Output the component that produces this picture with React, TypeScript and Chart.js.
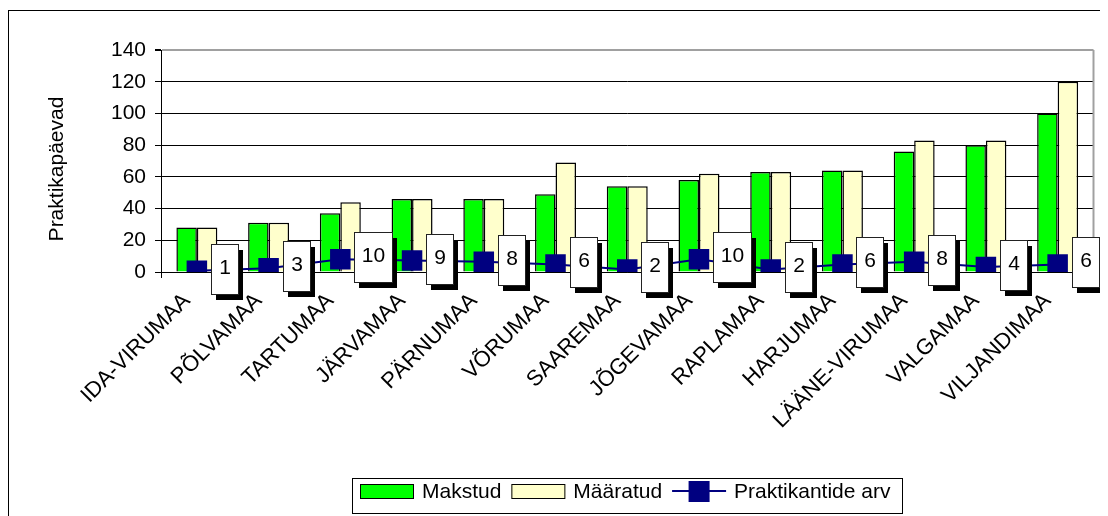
import React, { useEffect, useRef } from "react";
import { Chart, registerables } from "chart.js";

Chart.register(...registerables);

const categories = [
  "IDA-VIRUMAA",
  "PÕLVAMAA",
  "TARTUMAA",
  "JÄRVAMAA",
  "PÄRNUMAA",
  "VÕRUMAA",
  "SAAREMAA",
  "JÕGEVAMAA",
  "RAPLAMAA",
  "HARJUMAA",
  "LÄÄNE-VIRUMAA",
  "VALGAMAA",
  "VILJANDIMAA",
];
const makstud = [28, 31, 37, 46, 46, 49, 54, 58, 63, 64, 76, 80, 100];
const maaratud = [28, 31, 44, 46, 46, 69, 54, 62, 63, 64, 83, 83, 120];
const praktikantideArv = [1, 3, 10, 9, 8, 6, 2, 10, 2, 6, 8, 4, 6];
const seriesNames = ["Makstud", "Määratud", "Praktikantide arv"];
const yAxisTitle = "Praktikapäevad";
const yMin = 0;
const yMax = 140;
const yStep = 20;

const FONT = "'Liberation Sans', Arial, sans-serif";
const GREEN = "#00FF00";
const YELLOW = "#FFFFCC";
const NAVY = "#000080";

export default function App() {
  const ref = useRef<HTMLCanvasElement | null>(null);

  useEffect(() => {
    document.documentElement.style.overflow = "hidden";
    const canvas = ref.current;
    if (!canvas) return;

    const framePlugin = {
      id: "frame",
      beforeDatasetsDraw(chart: any) {
        const { ctx, chartArea } = chart;
        ctx.save();
        ctx.strokeStyle = "#a0a0a0";
        ctx.lineWidth = 2;
        ctx.beginPath();
        ctx.moveTo(chartArea.right, chartArea.top);
        ctx.lineTo(chartArea.right, chartArea.bottom);
        ctx.stroke();
        ctx.restore();
      },
      afterDraw(chart: any) {
        // vertical axis title
        const { ctx, chartArea } = chart;
        ctx.save();
        ctx.font = `21px ${FONT}`;
        ctx.fillStyle = "#000";
        ctx.textAlign = "center";
        ctx.textBaseline = "middle";
        ctx.translate(48, (chartArea.top + chartArea.bottom) / 2 + 8);
        ctx.rotate(-Math.PI / 2);
        ctx.fillText(yAxisTitle, 0, 0);
        ctx.restore();
      },
    };

    const labelPlugin = {
      id: "boxLabels",
      afterDatasetsDraw(chart: any) {
        const { ctx } = chart;
        const meta = chart.getDatasetMeta(2);
        ctx.save();
        ctx.font = `21px ${FONT}`;
        meta.data.forEach((pt: any, i: number) => {
          const text = String(praktikantideArv[i]);
          const tw = ctx.measureText(text).width;
          const w = Math.round(tw + 15);
          const h = 50;
          const left = Math.round(pt.x + 14);
          const cy = pt.y - 2;
          const top = Math.round(cy - h / 2);
          ctx.fillStyle = "#000";
          ctx.fillRect(left + 5, top + 6, w, h);
          ctx.fillStyle = "#fff";
          ctx.fillRect(left, top, w, h);
          ctx.strokeStyle = "#222";
          ctx.lineWidth = 1;
          ctx.strokeRect(left + 0.5, top + 0.5, w, h);
          ctx.fillStyle = "#000";
          ctx.textAlign = "center";
          ctx.textBaseline = "middle";
          ctx.fillText(text, left + w / 2 + 0.5, top + h / 2 - 1);
        });
        ctx.restore();
      },
    };

    const legendPlugin = {
      id: "customLegend",
      afterDraw(chart: any) {
        const { ctx, chartArea } = chart;
        ctx.save();
        ctx.font = `21px ${FONT}`;
        const sw = 54;
        const gapText = 8;
        const gapItem = 10;
        const padL = 8;
        const padR = 12;
        const widths = seriesNames.map((s) => ctx.measureText(s).width);
        let total = padL + padR;
        widths.forEach((w, i) => {
          total += sw + gapText + w + (i < widths.length - 1 ? gapItem : 0);
        });
        const cx = (chartArea.left + chartArea.right) / 2;
        const boxLeft = Math.round(cx - total / 2);
        const boxTop = Math.round(chartArea.bottom + 206);
        const boxH = 35;
        const cy = boxTop + 13;
        ctx.fillStyle = "#fff";
        ctx.fillRect(boxLeft, boxTop, total, boxH);
        ctx.strokeStyle = "#000";
        ctx.lineWidth = 1;
        ctx.strokeRect(boxLeft + 0.5, boxTop + 0.5, Math.round(total), boxH);
        let x = boxLeft + padL;
        seriesNames.forEach((name, i) => {
          if (i < 2) {
            ctx.fillStyle = i === 0 ? GREEN : YELLOW;
            ctx.fillRect(x, cy - 7, sw, 15);
            ctx.strokeStyle = "#000";
            ctx.strokeRect(x + 0.5, cy - 7 + 0.5, sw - 1, 14);
          } else {
            ctx.strokeStyle = NAVY;
            ctx.lineWidth = 2;
            ctx.beginPath();
            ctx.moveTo(x, cy);
            ctx.lineTo(x + sw, cy);
            ctx.stroke();
            ctx.fillStyle = NAVY;
            ctx.fillRect(x + sw / 2 - 10.5, cy - 10, 21, 21);
            ctx.lineWidth = 1;
          }
          ctx.fillStyle = "#000";
          ctx.textAlign = "left";
          ctx.textBaseline = "middle";
          ctx.fillText(name, x + sw + gapText, cy + 1);
          x += sw + gapText + widths[i] + gapItem;
        });
        ctx.restore();
      },
    };

    const chart = new Chart(canvas, {
      type: "bar",
      data: {
        labels: categories,
        datasets: [
          {
            type: "bar",
            label: seriesNames[0],
            data: makstud,
            backgroundColor: GREEN,
            borderColor: "#000",
            borderWidth: 1.5,
            order: 1,
            yAxisID: "y",
          },
          {
            type: "bar",
            label: seriesNames[1],
            data: maaratud,
            backgroundColor: YELLOW,
            borderColor: "#000",
            borderWidth: 1.5,
            order: 1,
            yAxisID: "y",
          },
          {
            type: "line",
            label: seriesNames[2],
            data: praktikantideArv,
            borderColor: NAVY,
            backgroundColor: NAVY,
            borderWidth: 2,
            pointStyle: "rect",
            pointRadius: 14.5,
            pointBorderWidth: 0,
            pointBackgroundColor: NAVY,
            order: 0,
            yAxisID: "y2",
            tension: 0,
          } as any,
        ],
      },
      options: {
        responsive: false,
        animation: false,
        layout: { padding: { left: 0, right: 7, top: 39, bottom: 0 } },
        datasets: { bar: { categoryPercentage: 0.571, barPercentage: 1 } },
        plugins: { legend: { display: false }, tooltip: { enabled: false } },
        scales: {
          x: {
            grid: {
              display: true,
              drawOnChartArea: false,
              drawTicks: true,
              tickLength: 6,
              color: "#000",
              offset: true,
            },
            border: { color: "#000", width: 1 },
            ticks: {
              maxRotation: 45,
              minRotation: 45,
              autoSkip: false,
              font: { family: FONT, size: 22 },
              color: "#000",
              padding: 10,
              labelOffset: -10,
            },
            afterFit(scale: any) {
              scale.height = 244;
            },
          },
          y: {
            min: yMin,
            max: yMax,
            ticks: {
              stepSize: yStep,
              font: { family: FONT, size: 21 },
              color: "#000",
              padding: 9,
            },
            grid: {
              color: (c: any) => (c.tick && c.tick.value === yMax ? "#a0a0a0" : "#000"),
              lineWidth: (c: any) => (c.tick && c.tick.value === yMax ? 2 : 1),
              tickColor: "#000",
              tickLength: 6,
            },
            border: { color: "#000", width: 1 },
            afterFit(scale: any) {
              scale.width = 152;
            },
          },
          y2: { display: false, min: 0, max: 175 },
        },
      } as any,
      plugins: [framePlugin, labelPlugin, legendPlugin],
    });

    return () => chart.destroy();
  }, []);

  return (
    <div style={{ paddingTop: 2 }}>
      <div
        style={{
          borderLeft: "1px solid #000",
          borderTop: "1px solid #000",
          width: 1099,
          height: 505,
        }}
      >
        <canvas ref={ref} width={1099} height={505} style={{ display: "block" }} />
      </div>
    </div>
  );
}
